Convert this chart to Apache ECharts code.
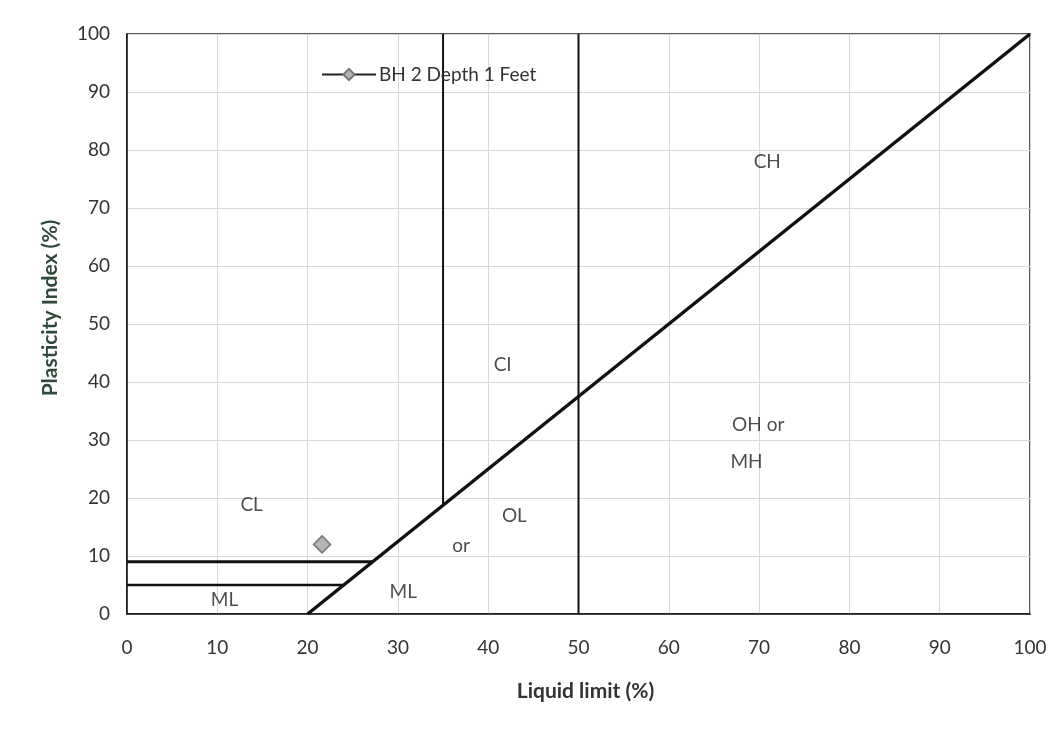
<!DOCTYPE html>
<html><head><meta charset="utf-8">
<script src="https://cdn.jsdelivr.net/npm/echarts@6/dist/echarts.min.js"></script>
<style>html,body{margin:0;padding:0;background:#fff}#c{width:1063px;height:742px}</style>
</head><body><div id="c"></div>
<script>
// Boundary lines of the plasticity chart
var aLine = [[20, 0], [100, 100]];
var line50 = [[50, 0], [50, 100]];
var line35 = [[35, 18.75], [35, 100]];
var line9 = [[0, 9], [27.2, 9]];
var line5 = [[0, 5], [24, 5]];
// Sample point
var sampleName = 'BH 2 Depth 1 Feet';
var sampleData = [[21.6, 12]];
// Zone labels [x, y, text]
var zoneLabels = [
  [13.8, 18.8, 'CL'], [41.6, 42.9, 'CI'], [70.9, 77.9, 'CH'],
  [69.9, 32.6, 'OH or'], [68.6, 26.3, 'MH'], [42.9, 17, 'OL'],
  [37, 11.7, 'or'], [10.8, 2.4, 'ML'], [30.6, 3.9, 'ML']
];

var font = 'Lato, "Open Sans", sans-serif';
function boundary(d, w) {
  return {type: 'line', data: d, symbol: 'none', silent: true,
    lineStyle: {color: '#111', width: w}, z: 3};
}
var chart = echarts.init(document.getElementById('c'));
chart.setOption({
  animation: false,
  grid: {left: 127, right: 33, top: 34, bottom: 128, show: true, borderColor: '#222', borderWidth: 1.5, backgroundColor: '#fff'},
  legend: {left: 316, top: 60, itemWidth: 54, itemHeight: 14, itemGap: 4,
    data: [sampleName],
    textStyle: {fontFamily: font, fontSize: 19, color: '#333', padding: [0, 0, 0, -2]}},
  xAxis: {type: 'value', min: 0, max: 100, interval: 10,
    name: 'Liquid limit (%)', nameLocation: 'middle', nameGap: 67,
    nameTextStyle: {fontFamily: font, fontSize: 21, fontWeight: 'bold', color: '#333', padding: [0, 0, 0, 14]},
    axisLine: {lineStyle: {color: '#111', width: 1.5}},
    axisTick: {show: false},
    axisLabel: {fontFamily: font, fontSize: 19, color: '#333', margin: 24},
    splitLine: {lineStyle: {color: '#d8d8d8'}}},
  yAxis: {type: 'value', min: 0, max: 100, interval: 10,
    name: 'Plasticity Index (%)', nameLocation: 'middle', nameGap: 66,
    nameTextStyle: {fontFamily: font, fontSize: 21, fontWeight: 'bold', color: '#2f4a3a', padding: [0, 0, 0, 32]},
    axisLine: {show: true, lineStyle: {color: '#111', width: 1.5}},
    axisTick: {show: false},
    axisLabel: {fontFamily: font, fontSize: 19, color: '#333', margin: 17},
    splitLine: {lineStyle: {color: '#d8d8d8'}}},
  series: [
    boundary(aLine, 3.5), boundary(line50, 2), boundary(line35, 2),
    boundary(line9, 3), boundary(line5, 2.5),
    {type: 'scatter', data: zoneLabels, symbolSize: 0, silent: true,
      label: {show: true, position: 'inside', formatter: function (p) { return p.data[2]; },
        fontFamily: font, fontSize: 19, color: '#222'}},
    {name: sampleName, type: 'line', data: sampleData, symbol: 'diamond', symbolSize: 17,
      itemStyle: {color: '#b5b5b5', borderColor: '#777', borderWidth: 1.5},
      lineStyle: {color: '#222', width: 3}, z: 5}
  ]
});
</script></body></html>
